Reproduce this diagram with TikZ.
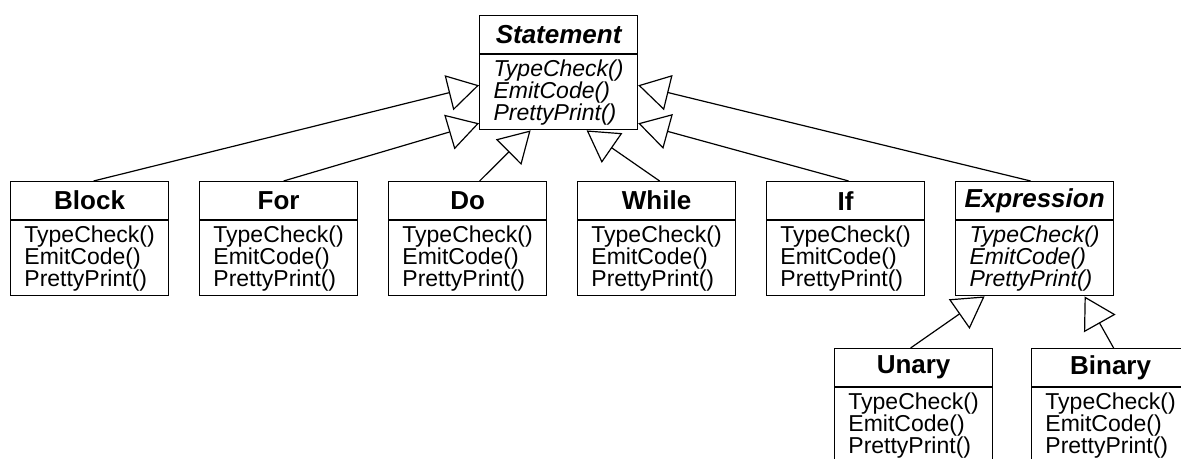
\documentclass[tikz,border=0pt]{standalone}
\usepackage{fontspec}
\setmainfont{Liberation Sans}
\usetikzlibrary{arrows.meta,shapes}

\tikzset{
  classtitle/.style={draw,line width=1.2pt,anchor=north west,minimum width=158pt,minimum height=38pt,inner sep=0pt,font=\fontsize{26}{26}\selectfont\bfseries},
  classops/.style={draw,line width=1.2pt,anchor=north,minimum width=158pt,minimum height=75pt,inner sep=0pt,align=left,font=\fontsize{23}{22}\selectfont},
  abstracttitle/.style={classtitle,font=\fontsize{26}{26}\selectfont\bfseries\itshape},
  abstractops/.style={classops,font=\fontsize{23}{22}\selectfont\itshape},
  inherit/.style={line width=1.2pt,-{Triangle[open,length=31pt,width=36pt]}}
}

\begin{document}
\begin{tikzpicture}[x=1pt,y=1pt]
\clip (0,0) rectangle (1181,458);
% base class
\node[abstracttitle] (stmt) at (479,443) {Statement};
\node[abstractops] (stmtops) at (stmt.south) {TypeCheck()\\EmitCode()\\PrettyPrint()};
% statements
\node[classtitle] (block) at (10,277) {Block};
\node[classops] (blockops) at (block.south) {TypeCheck()\\EmitCode()\\PrettyPrint()};
\node[classtitle] (for) at (199,277) {For};
\node[classops] (forops) at (for.south) {TypeCheck()\\EmitCode()\\PrettyPrint()};
\node[classtitle] (do) at (388,277) {Do};
\node[classops] (doops) at (do.south) {TypeCheck()\\EmitCode()\\PrettyPrint()};
\node[classtitle] (while) at (577,277) {While};
\node[classops] (whileops) at (while.south) {TypeCheck()\\EmitCode()\\PrettyPrint()};
\node[classtitle] (if) at (766,277) {If};
\node[classops] (ifops) at (if.south) {TypeCheck()\\EmitCode()\\PrettyPrint()};
\node[abstracttitle] (expr) at (955,277) {Expression};
\node[abstractops] (exprops) at (expr.south) {TypeCheck()\\EmitCode()\\PrettyPrint()};
% expressions
\node[classtitle] (unary) at (834,110) {Unary};
\node[classops] (unaryops) at (unary.south) {TypeCheck()\\EmitCode()\\PrettyPrint()};
\node[classtitle] (binary) at (1031,110) {Binary};
\node[classops] (binaryops) at (binary.south) {TypeCheck()\\EmitCode()\\PrettyPrint()};
% inheritance
\draw[inherit] ([xshift=4pt]block.north) -- ([yshift=7pt]stmtops.west);
\draw[inherit] ([xshift=5pt]for.north) -- ([yshift=-31pt]stmtops.west);
\draw[inherit] ([xshift=12pt]do.north) -- ([xshift=-28pt]stmtops.south);
\draw[inherit] ([xshift=3pt]while.north) -- ([xshift=28pt]stmtops.south);
\draw[inherit] ([xshift=3pt]if.north) -- ([yshift=-31pt]stmtops.east);
\draw[inherit] ([xshift=-4pt]expr.north) -- ([yshift=7pt]stmtops.east);
\draw[inherit] ([xshift=-3pt]unary.north) -- ([xshift=-50pt]exprops.south);
\draw[inherit] ([xshift=3pt]binary.north) -- ([xshift=50pt]exprops.south);
\end{tikzpicture}
\end{document}
